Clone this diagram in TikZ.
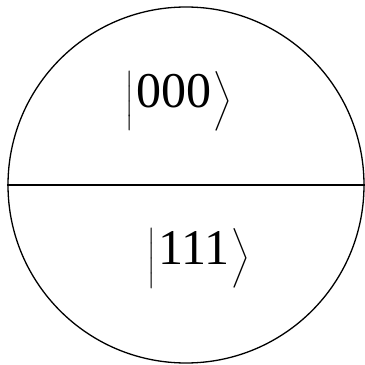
\documentclass[tikz,border=0pt]{standalone}
\usepackage{amsmath}
\usepackage{fontspec}
\setmainfont{Liberation Serif}
\tikzset{
  outline/.style={draw=black,line width=1.3pt},
  ketlabel/.style={inner sep=0pt,font=\fontsize{50}{50}\selectfont}
}
\begin{document}
\begin{tikzpicture}[x=1pt,y=1pt]
  \useasboundingbox (0,0) rectangle (365,365);
  \node[circle,outline,minimum size=356pt,inner sep=0pt] (c) at (186,180) {};
  \draw[outline] (c.west) -- (c.east);
  \node[ketlabel] (top) at (179,264) {$\left|\mkern2mu\text{000}\mkern1.5mu\right\rangle$};
  \node[ketlabel] (bot) at (199,106.5) {$\left|\mkern2mu\text{111}\mkern1.5mu\right\rangle$};
\end{tikzpicture}
\end{document}
